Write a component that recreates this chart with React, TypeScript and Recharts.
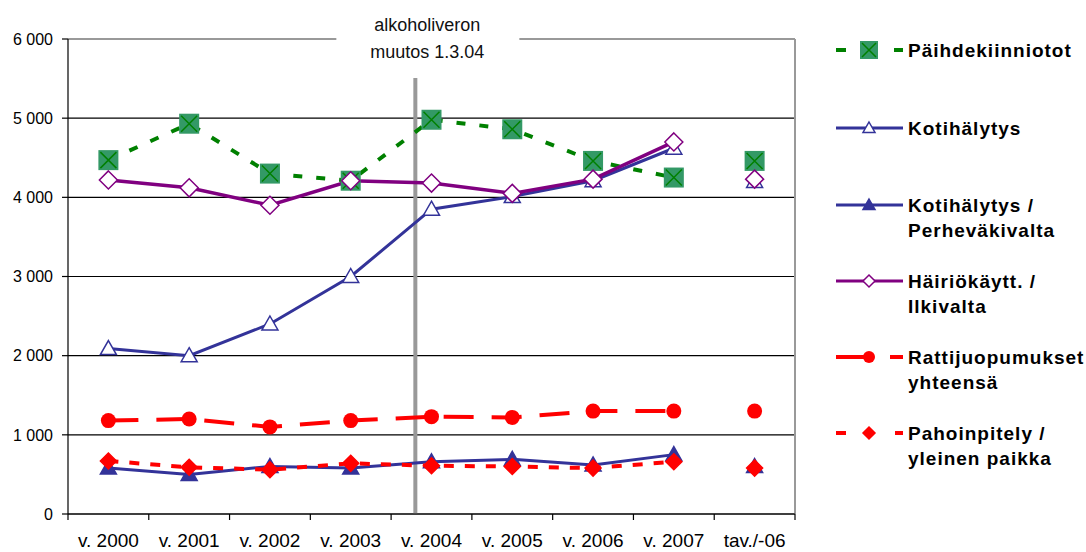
import React from "react"
import {
    LineChart,
    Line,
    XAxis,
    YAxis,
    CartesianGrid,
    ReferenceLine,
    Legend,
} from "recharts"

// categories (last one is the 2006 average, drawn unconnected)
const categories = [
    "v. 2000",
    "v. 2001",
    "v. 2002",
    "v. 2003",
    "v. 2004",
    "v. 2005",
    "v. 2006",
    "v. 2007",
    "tav./-06",
]

const paihde = [4470, 4930, 4300, 4210, 4980, 4860, 4460, 4250, 4460]
const koti = [2090, 2000, 2400, 3000, 3850, 4010, 4210, 4620, 4200]
const kotiPerhe = [580, 500, 600, 580, 660, 690, 620, 750, 600]
const hairio = [4220, 4120, 3900, 4210, 4180, 4050, 4230, 4700, 4230]
const ratti = [1180, 1200, 1100, 1180, 1230, 1220, 1300, 1300, 1300]
const pahoin = [670, 590, 560, 640, 610, 600, 580, 660, 580]

const yTicks = [0, 1000, 2000, 3000, 4000, 5000, 6000]
const bandEdges = [0, 1, 2, 3, 4, 5, 6, 7, 8, 9]

// alcohol tax change 1.3.04, as position on the band axis
const taxChange = 4.3

const legendNames = [
    ["Päihdekiinniotot"],
    ["Kotihälytys"],
    ["Kotihälytys /", "Perheväkivalta"],
    ["Häiriökäytt. /", "Ilkivalta"],
    ["Rattijuopumukset", "yhteensä"],
    ["Pahoinpitely /", "yleinen paikka"],
]

const series: [string, number[]][] = [
    ["paihde", paihde],
    ["koti", koti],
    ["kotiPerhe", kotiPerhe],
    ["hairio", hairio],
    ["ratti", ratti],
    ["pahoin", pahoin],
]

const data = categories.map((c, i) => {
    const row: any = { x: i + 0.5, name: c }
    series.forEach(([k, arr]) => {
        const last = i === categories.length - 1
        row[k] = last ? null : arr[i]
        row[k + "Tav"] = last ? arr[i] : null
    })
    return row
})

const W = 1086
const H = 552
const MARGIN = { top: 39, right: 291, bottom: 0, left: 0 }
const Y_AXIS_W = 68
const HALF_BAND = (W - MARGIN.right - Y_AXIS_W) / categories.length / 2

const FONT = "'Liberation Sans', Arial, sans-serif"
const GREEN = "#008000"
const BLUE = "#333399"
const PURPLE = "#800080"
const RED = "#ff0000"

const fmt = (v: number) =>
    v >= 1000 ? Math.floor(v / 1000) + " " + String(v % 1000).padStart(3, "0") : String(v)

function squareX(cx: number, cy: number, s: number) {
    return (
        <g>
            <rect x={cx - s} y={cy - s} width={s * 2} height={s * 2} fill="#339966" />
            <path
                d={`M${cx - s + 2},${cy - s + 2}L${cx + s - 2},${cy + s - 2}M${cx + s - 2},${cy - s + 2}L${cx - s + 2},${cy + s - 2}`}
                stroke={GREEN}
                strokeWidth={1.5}
            />
        </g>
    )
}

function triangle(cx: number, cy: number, s: number, fill: string) {
    return (
        <polygon
            points={`${cx},${cy - s} ${cx + s},${cy + s * 0.75} ${cx - s},${cy + s * 0.75}`}
            fill={fill}
            stroke={BLUE}
            strokeWidth={1.5}
        />
    )
}

function diamond(cx: number, cy: number, s: number, fill: string, stroke: string) {
    return (
        <polygon
            points={`${cx},${cy - s} ${cx + s},${cy} ${cx},${cy + s} ${cx - s},${cy}`}
            fill={fill}
            stroke={stroke}
            strokeWidth={1.5}
        />
    )
}

const markers: Record<string, (cx: number, cy: number) => React.ReactElement> = {
    paihde: (cx, cy) => squareX(cx, cy, 10),
    koti: (cx, cy) => triangle(cx, cy, 8, "#fff"),
    kotiPerhe: (cx, cy) => triangle(cx, cy, 8, BLUE),
    hairio: (cx, cy) => diamond(cx, cy, 9, "#fff", PURPLE),
    ratti: (cx, cy) => <circle cx={cx} cy={cy} r={7.5} fill={RED} />,
    pahoin: (cx, cy) => diamond(cx, cy, 8, RED, RED),
}

const dotFor = (k: string) => (p: any) => {
    if (p.cy == null || p.value == null) return <g key={p.index} />
    return <g key={p.index}>{markers[k](p.cx, p.cy)}</g>
}

const styles: Record<string, { stroke: string; width: number; dash?: string }> = {
    paihde: { stroke: GREEN, width: 4, dash: "9 14" },
    koti: { stroke: BLUE, width: 3 },
    kotiPerhe: { stroke: BLUE, width: 3 },
    hairio: { stroke: PURPLE, width: 3.5 },
    ratti: { stroke: RED, width: 4, dash: "30 18" },
    pahoin: { stroke: RED, width: 4, dash: "10 11" },
}

function legendIcon(k: string, y: number) {
    const x0 = 6
    const x1 = 73
    const cx = 39
    const st = styles[k]
    if (k === "paihde")
        return (
            <g>
                <line x1={x0} x2={x0 + 10} y1={y} y2={y} stroke={GREEN} strokeWidth={4} />
                <line x1={x1 - 9} x2={x1} y1={y} y2={y} stroke={GREEN} strokeWidth={4} />
                {squareX(cx, y, 9)}
            </g>
        )
    if (k === "ratti")
        return (
            <g>
                <line x1={x0} x2={cx} y1={y} y2={y} stroke={RED} strokeWidth={4} />
                <line x1={x1 - 13} x2={x1} y1={y} y2={y} stroke={RED} strokeWidth={4} />
                <circle cx={cx} cy={y} r={6} fill={RED} />
            </g>
        )
    if (k === "pahoin")
        return (
            <g>
                <line x1={x0} x2={x0 + 10} y1={y} y2={y} stroke={RED} strokeWidth={4} />
                <line x1={x1 - 8} x2={x1} y1={y} y2={y} stroke={RED} strokeWidth={4} />
                {diamond(cx, y, 6, RED, RED)}
            </g>
        )
    return (
        <g>
            <line x1={x0} x2={x1} y1={y} y2={y} stroke={st.stroke} strokeWidth={3} />
            {k === "hairio"
                ? diamond(cx, y, 6, "#fff", PURPLE)
                : triangle(cx, y, 6, k === "koti" ? "#fff" : BLUE)}
        </g>
    )
}

const legendY = [50, 128, 205, 281, 357, 433]

function LegendBox() {
    return (
        <svg width={256} height={500} style={{ position: "absolute", left: 830, top: 0 }}>
            {series.map(([k], i) => {
                const y = legendY[i]
                return (
                    <g key={k}>
                        {legendIcon(k, y)}
                        {legendNames[i].map((t, j) => (
                            <text
                                key={t}
                                x={78}
                                y={y + j * 25}
                                dy="0.35em"
                                fontFamily={FONT}
                                fontWeight="bold"
                                fontSize={19}
                                letterSpacing={1}
                                fill="#000"
                            >
                                {t}
                            </text>
                        ))}
                    </g>
                )
            })}
        </svg>
    )
}

function ChangeLabel(props: any) {
    const vb = props.viewBox || {}
    const x = vb.x
    const y = vb.y
    return (
        <g>
            <rect x={x - 79} y={0} width={183} height={y + 39} fill="#fff" />
            <text x={x + 12} y={y - 14} dy="0.35em" textAnchor="middle" fontFamily={FONT} fontSize={18} fill="#111">
                alkoholiveron
            </text>
            <text x={x + 12} y={y + 13} dy="0.35em" textAnchor="middle" fontFamily={FONT} fontSize={18} fill="#111">
                muutos 1.3.04
            </text>
        </g>
    )
}

// ticks sit on band edges, labels in the middle of each band
function BandLabel(props: any) {
    const { x, y, index } = props
    if (index >= categories.length) return <g />
    return (
        <text x={x + HALF_BAND} y={y + 25} textAnchor="middle" fontFamily={FONT} fontSize={19} fill="#000">
            {categories[index]}
        </text>
    )
}

export default function App() {
    return (
        <div style={{ position: "absolute", left: 0, top: 0, width: W, height: H, background: "#fff" }}>
            <LineChart width={W} height={H} data={data} margin={MARGIN}>
                <CartesianGrid vertical={false} stroke="#000" strokeWidth={1.2} />
                <XAxis
                    dataKey="x"
                    type="number"
                    domain={[0, 9]}
                    ticks={bandEdges}
                    interval={0}
                    height={38}
                    tick={<BandLabel />}
                    tickSize={6}
                    axisLine={{ stroke: "#000", strokeWidth: 1.2 }}
                    tickLine={{ stroke: "#000", strokeWidth: 1.2 }}
                />
                <YAxis
                    width={Y_AXIS_W}
                    domain={[0, 6000]}
                    ticks={yTicks}
                    interval={0}
                    tickFormatter={fmt}
                    tickSize={6}
                    tickMargin={9}
                    tick={{ fill: "#000", fontSize: 16, fontFamily: FONT }}
                    axisLine={{ stroke: "#000", strokeWidth: 1.2 }}
                    tickLine={{ stroke: "#000", strokeWidth: 1.2 }}
                />
                <ReferenceLine y={6000} stroke="#999" strokeWidth={2} />
                <ReferenceLine x={9} stroke="#999" strokeWidth={2} />
                <ReferenceLine
                    x={taxChange}
                    stroke="#999"
                    strokeWidth={4}
                    label={<ChangeLabel />}
                />
                {series.map(([k]) => (
                    <Line
                        key={k}
                        dataKey={k}
                        stroke={styles[k].stroke}
                        strokeWidth={styles[k].width}
                        strokeDasharray={styles[k].dash}
                        dot={dotFor(k)}
                        activeDot={false}
                        isAnimationActive={false}
                        legendType="none"
                    />
                ))}
                {series.map(([k]) => (
                    <Line
                        key={k + "Tav"}
                        dataKey={k + "Tav"}
                        stroke="none"
                        dot={dotFor(k)}
                        activeDot={false}
                        isAnimationActive={false}
                        legendType="none"
                    />
                ))}
                <Legend content={() => null} />
            </LineChart>
            <LegendBox />
        </div>
    )
}
